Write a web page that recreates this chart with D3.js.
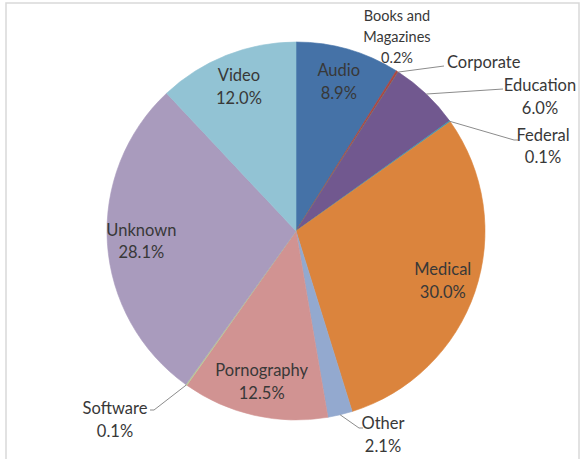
<!DOCTYPE html>
<html>
<head>
<meta charset="utf-8">
<script src="https://cdn.jsdelivr.net/npm/d3@7"></script>
<style>
  html, body { margin: 0; padding: 0; background: #fff; }
  svg { display: block; }
  text { font-family: Lato, "Open Sans", sans-serif; fill: #383838; }
</style>
</head>
<body>
<svg id="chart" width="582" height="459"></svg>
<script>
// ---- data ----
const categories = ["Audio", "Books and Magazines", "Corporate", "Education", "Federal",
                    "Medical", "Other", "Pornography", "Software", "Unknown", "Video"];
const values = [8.9, 0.2, 0.0, 6.0, 0.1, 30.0, 2.1, 12.5, 0.1, 28.1, 12.0];
const percentLabels = ["8.9%", "0.2%", "", "6.0%", "0.1%", "30.0%", "2.1%", "12.5%", "0.1%", "28.1%", "12.0%"];
const colors = ["#4572A7", "#AA4643", "#89A54E", "#71588F", "#4198AF", "#DB843D",
                "#93A9CF", "#D19392", "#B9CD96", "#A99BBD", "#92C3D4"];

// ---- layout ----
const W = 582, H = 459;
const cx = 296, cy = 231, R = 189;
const svg = d3.select("#chart");

// frame
svg.append("rect").attr("x", 6).attr("y", 3).attr("width", 573).attr("height", 470)
  .attr("fill", "none").attr("stroke", "#d9d9d9").attr("stroke-width", 1.5);

const data = categories.map((c, i) => ({ name: c, value: values[i], pct: percentLabels[i], color: colors[i] }));

const pie = d3.pie().value(d => d.value).sort(null);
const arcs = pie(data);
const arc = d3.arc().innerRadius(0).outerRadius(R);
const labelArc = d3.arc().innerRadius(R * 0.82).outerRadius(R * 0.82);

const g = svg.append("g").attr("transform", `translate(${cx},${cy})`);
g.selectAll("path.slice").data(arcs).enter().append("path")
  .attr("class", "slice")
  .attr("d", arc)
  .attr("fill", d => d.data.color)
  .attr("stroke", d => d.data.color)
  .attr("stroke-width", 0.6);

const FS = 16.5;
// inside labels
const inside = ["Audio", "Medical", "Pornography", "Unknown", "Video"];
arcs.filter(a => inside.includes(a.data.name)).forEach(a => {
  const [x, y] = labelArc.centroid(a);
  const t = g.append("text").attr("text-anchor", "middle").attr("font-size", FS);
  t.append("tspan").attr("x", x).attr("y", y - 11.5).attr("dy", "0.35em").text(a.data.name);
  t.append("tspan").attr("x", x).attr("y", y + 11.5).attr("dy", "0.35em").text(a.data.pct);
});

// outside labels: label anchor (absolute) + leader line elbow
const outsideLayout = {
  "Books and Magazines": { lines: ["Books and", "Magazines", "0.2%"], x: 397, y: 16, step: 21, anchor: "middle", fs: 14.5, leader: null },
  "Corporate": { lines: ["Corporate"], x: 447, y: 62, step: 23, anchor: "start", fs: FS, leader: [[444, 66]] },
  "Education": { lines: ["Education", "6.0%"], x: 540, y: 85, step: 23, anchor: "middle", fs: FS, leader: [[503, 89]] },
  "Federal": { lines: ["Federal", "0.1%"], x: 543, y: 135, step: 22, anchor: "middle", fs: FS, leader: [[514, 140], [518, 140]] },
  "Other": { lines: ["Other", "2.1%"], x: 383, y: 423, step: 23, anchor: "middle", fs: FS, leader: [[359, 428], [363, 428]] },
  "Software": { lines: ["Software", "0.1%"], x: 115, y: 408, step: 23, anchor: "middle", fs: FS, leader: [[154, 410], [150, 410]] }
};

arcs.forEach(a => {
  const L = outsideLayout[a.data.name];
  if (!L) return;
  if (L.leader) {
    const mid = (a.startAngle + a.endAngle) / 2;
    const sx = cx + R * Math.sin(mid), sy = cy - R * Math.cos(mid);
    const pts = [[sx, sy]].concat(L.leader);
    svg.append("path").attr("d", d3.line()(pts))
      .attr("fill", "none").attr("stroke", "#8c8c8c").attr("stroke-width", 1);
  }
  const t = svg.append("text").attr("text-anchor", L.anchor).attr("font-size", L.fs);
  L.lines.forEach((s, i) => {
    t.append("tspan").attr("x", L.x).attr("y", L.y + i * L.step).attr("dy", "0.35em").text(s);
  });
});
</script>
</body>
</html>
